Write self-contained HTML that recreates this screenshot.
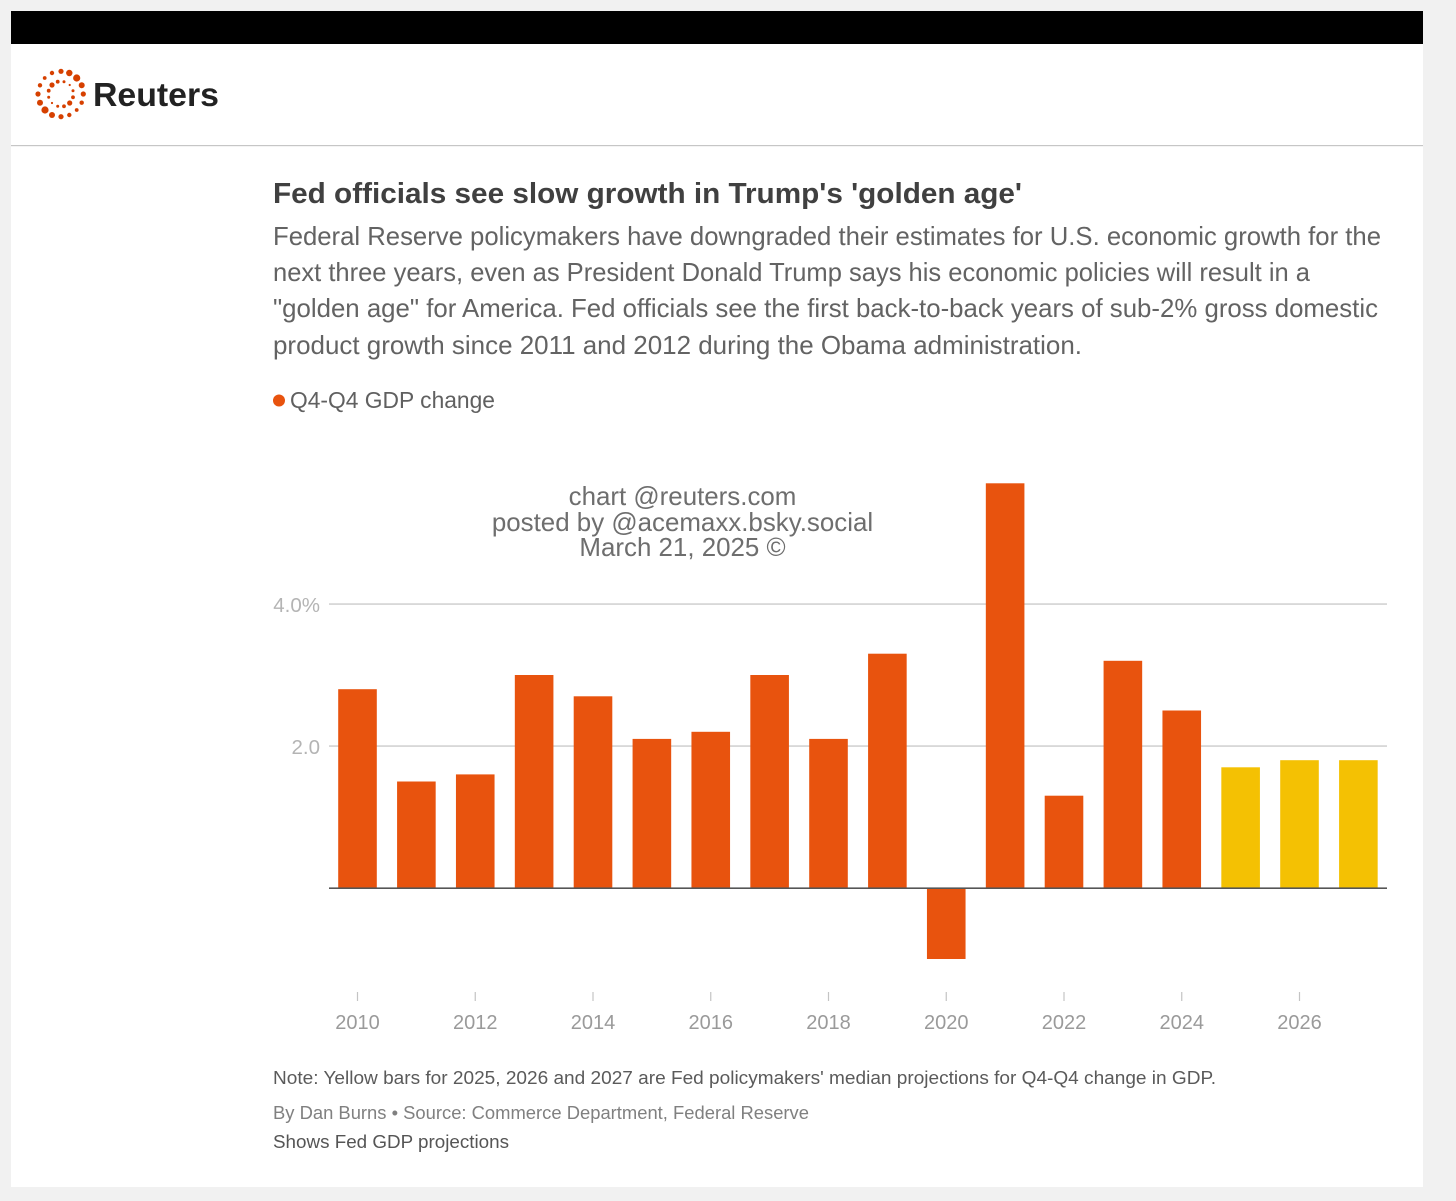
<!DOCTYPE html>
<html lang="en">
<head>
<meta charset="utf-8">
<title>Fed officials see slow growth in Trump's 'golden age'</title>
<style>
html,body{margin:0;padding:0;background:#f1f1f1;width:1456px;height:1201px;overflow:hidden}
svg{display:block;position:absolute;left:0;top:0}
text{font-family:"Liberation Sans",sans-serif}
</style>
</head>
<body>
<svg id="chart" width="1456" height="1201" viewBox="0 0 1456 1201" xmlns="http://www.w3.org/2000/svg">
  <rect x="11" y="11" width="1412" height="1176" fill="#ffffff"/>
  <rect x="11" y="11" width="1412" height="33" fill="#000000"/>
  <g id="logo" fill="#d64000"></g>
  <text x="93" y="106" font-size="33" font-weight="700" fill="#222222" textLength="126" lengthAdjust="spacingAndGlyphs">Reuters</text>
  <rect x="11" y="145" width="1412" height="1.2" fill="#c6c6c6"/>

  <text x="273" y="203" font-size="29" font-weight="700" fill="#404040" textLength="749" lengthAdjust="spacingAndGlyphs">Fed officials see slow growth in Trump's 'golden age'</text>
  <g fill="#636363" font-size="26">
    <text x="273" y="245" textLength="1108" lengthAdjust="spacingAndGlyphs">Federal Reserve policymakers have downgraded their estimates for U.S. economic growth for the</text>
    <text x="273" y="281" textLength="1037" lengthAdjust="spacingAndGlyphs">next three years, even as President Donald Trump says his economic policies will result in a</text>
    <text x="273" y="317" textLength="1105" lengthAdjust="spacingAndGlyphs">"golden age" for America. Fed officials see the first back-to-back years of sub-2% gross domestic</text>
    <text x="273" y="354" textLength="809" lengthAdjust="spacingAndGlyphs">product growth since 2011 and 2012 during the Obama administration.</text>
  </g>

  <circle cx="279" cy="400.5" r="6" fill="#e8530e"/>
  <text x="290" y="408" font-size="23" fill="#606060" textLength="205" lengthAdjust="spacingAndGlyphs">Q4-Q4 GDP change</text>

  <g id="grid"></g>
  <g id="ylabels"></g>
  <g id="bars"></g>
  <rect id="zero" x="329" width="1058" height="1.6" fill="#555555"/>
  <g id="xticks"></g>
  <g id="xlabels"></g>

  <g font-size="25.9" fill="#6e6e6e" text-anchor="middle">
    <text x="682.5" y="505">chart @reuters.com</text>
    <text x="682.5" y="531">posted by @acemaxx.bsky.social</text>
    <text x="682.5" y="556">March 21, 2025 ©</text>
  </g>

  <text x="273" y="1084" font-size="18" fill="#5a5a5a" textLength="943" lengthAdjust="spacingAndGlyphs">Note: Yellow bars for 2025, 2026 and 2027 are Fed policymakers' median projections for Q4-Q4 change in GDP.</text>
  <text x="273" y="1119" font-size="18" fill="#808080" textLength="536" lengthAdjust="spacingAndGlyphs">By Dan Burns • Source: Commerce Department, Federal Reserve</text>
  <text x="273" y="1148" font-size="18" fill="#555555" textLength="236" lengthAdjust="spacingAndGlyphs">Shows Fed GDP projections</text>
</svg>
<script>
const years = [2010,2011,2012,2013,2014,2015,2016,2017,2018,2019,2020,2021,2022,2023,2024,2025,2026,2027];
const gdpChange = [2.8,1.5,1.6,3.0,2.7,2.1,2.2,3.0,2.1,3.3,-1.0,5.7,1.3,3.2,2.5,1.7,1.8,1.8];
const projectedYears = [2025,2026,2027];
const yTicks = [2,4];
const yTickLabels = ["2.0","4.0%"];
const xTickYears = [2010,2012,2014,2016,2018,2020,2022,2024,2026];

const NS = "http://www.w3.org/2000/svg";
const xScale = y => 357.5 + (y - 2010) * 58.875;
const yScale = v => 888 - v * 71;
const BAR_WIDTH = 38.6;
function mk(tag, attrs, parent) {
  const el = document.createElementNS(NS, tag);
  for (const k in attrs) el.setAttribute(k, attrs[k]);
  parent.appendChild(el);
  return el;
}

const gridG = document.getElementById("grid");
const yLabelG = document.getElementById("ylabels");
yTicks.forEach((t, i) => {
  const line = mk("rect", {x:329, y:yScale(t)-0.6, width:1058, height:1.3, fill:"#c8c8c8"}, gridG);
  
  
  const lab = mk("text", {x:320, y:yScale(t)+8, "text-anchor":"end", "font-size":20.5, fill:"#b4b4b4"}, yLabelG);
  lab.textContent = yTickLabels[i];
  
  
});

const barG = document.getElementById("bars");
years.forEach((yr, i) => {
  const v = gdpChange[i];
  const top = Math.min(yScale(v), yScale(0));
  const h = Math.abs(yScale(v) - yScale(0));
  const bar = mk("rect", {x:xScale(yr)-BAR_WIDTH/2, y:top, width:BAR_WIDTH, height:h,
    fill: projectedYears.includes(yr) ? "#f4c103" : "#e8530e"}, barG);
  
  
});

document.getElementById("zero").setAttribute("y", yScale(0) - 0.6);

const tickG = document.getElementById("xticks");
const xLabelG = document.getElementById("xlabels");
xTickYears.forEach(yr => {
  const tick = mk("rect", {x:xScale(yr)-0.6, y:992, width:1.2, height:9, fill:"#c4c4c4"}, tickG);
  
  
  const lab = mk("text", {x:xScale(yr), y:1029, "text-anchor":"middle", "font-size":20, fill:"#9a9a9a"}, xLabelG);
  lab.textContent = yr;
  
  
});

const logoG = document.getElementById("logo");
const logoDots = [
  [61,71.3,2.6],[69.3,73,3.2],[76.7,78,3.6],[81.7,85.3,3],[83.3,94,2.6],[81.7,102.7,2.2],[76.7,110,1.9],[69.3,115,2.2],
  [61,116.7,2.6],[52,115,3],[45,110,3.6],[40,102.7,3],[38,94,2.6],[40,85.3,2.2],[44.7,78,1.9],[52,73,2.2],
  [57.7,81.7,1.9],[64,81.7,1.5],[69.7,85,1.1],[73,90.7,1.5],[73,97.3,1.9],[69.7,103,2.6],[64,106.3,1.9],[57.7,106.3,1.5],
  [52,103,1.1],[48.7,97.3,1.5],[48.7,90.7,1.9],[52,85,2.6]
];
logoDots.forEach(d => {
  const dot = mk("circle", {cx:d[0], cy:d[1], r:d[2]}, logoG);
  
  
});
</script>
</body>
</html>
